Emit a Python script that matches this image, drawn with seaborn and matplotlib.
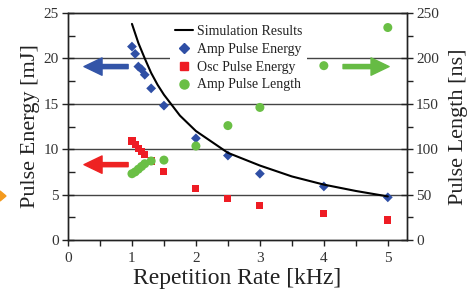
import matplotlib
matplotlib.use("Agg")
import matplotlib.pyplot as plt
import matplotlib.patches as mpatches
from matplotlib.ticker import MultipleLocator
from matplotlib.lines import Line2D
import pandas as pd
import seaborn as sns

# data
rate = [1.0, 1.05, 1.1, 1.15, 1.2, 1.3, 1.5, 2.0, 2.5, 3.0, 4.0, 5.0]
amp_energy = [21.3, 20.5, 19.1, 18.8, 18.2, 16.7, 14.8, 11.2, 9.3, 7.3, 5.9, 4.7]
osc_energy = [10.9, 10.5, 10.1, 9.7, 9.4, 8.7, 7.5, 5.7, 4.6, 3.85, 2.9, 2.2]
amp_length = [73, 75, 78, 81, 84, 87, 88, 103.5, 126, 146, 192, 234]

sim_rate = [1.0, 1.1, 1.2, 1.3, 1.4, 1.5, 1.75, 2.0, 2.5, 3.0, 3.5, 4.0, 4.5, 5.0]
sim_energy = [23.8, 21.7, 20.0, 18.4, 17.1, 16.0, 13.7, 12.0, 9.6, 8.2, 7.0, 6.1, 5.4, 4.8]

blue = '#2f4fa5'
red = '#ee1c24'
green = '#6abf45'

df = pd.DataFrame({'rate': rate, 'amp': amp_energy, 'osc': osc_energy, 'len': amp_length})
df_sim = pd.DataFrame({'rate': sim_rate, 'energy': sim_energy})

sns.set_style('ticks')
plt.rcParams['font.family'] = ['Liberation Serif', 'DejaVu Serif']

fig = plt.figure(figsize=(4.77, 2.97), dpi=100)
ax = fig.add_axes([68 / 477, 1 - 240 / 297, 339 / 477, 227 / 297])
ax2 = ax.twinx()

sns.lineplot(data=df_sim, x='rate', y='energy', ax=ax, color='black', linewidth=1.5)
sns.scatterplot(data=df, x='rate', y='amp', ax=ax, marker='D', color=blue, s=25, edgecolor='none')
sns.scatterplot(data=df, x='rate', y='osc', ax=ax, marker='s', color=red, s=26, edgecolor='none')
sns.scatterplot(data=df, x='rate', y='len', ax=ax2, marker='o', color=green, s=42, edgecolor='none')

ax.set_xlim(0, 5.3)
ax.set_ylim(0, 25)
ax2.set_ylim(0, 250)

ax.set_xticks([0, 1, 2, 3, 4, 5], labels=['0', '1', '2', '3', '4', '5'])
ax.xaxis.set_minor_locator(MultipleLocator(0.5))
ax.yaxis.set_major_locator(MultipleLocator(5))
ax.yaxis.set_minor_locator(MultipleLocator(2.5))
ax2.yaxis.set_major_locator(MultipleLocator(50))
ax2.yaxis.set_minor_locator(MultipleLocator(25))

for a in (ax, ax2):
    for s in a.spines.values():
        s.set_color('#222222')
        s.set_linewidth(1.0)
ax.tick_params(axis='y', which='major', direction='inout', length=9, width=1, labelsize=11, pad=2, colors='#222222')
ax.tick_params(axis='y', which='minor', direction='in', length=5, width=1, colors='#222222')
ax.tick_params(axis='x', which='both', direction='out', length=4, width=1, labelsize=11, pad=5, colors='#222222')
ax2.tick_params(axis='y', which='major', direction='inout', length=9, width=1, labelsize=11, pad=2, colors='#222222')
ax2.tick_params(axis='y', which='minor', direction='out', length=4, width=1, colors='#222222')
ax.tick_params(axis='y', labelcolor='#333333')
ax2.tick_params(axis='y', labelcolor='#333333')
ax.tick_params(axis='x', labelcolor='#333333')

for v in [5, 10, 15, 20]:
    ax.axhline(v, color='#444444', linewidth=1.0, zorder=0)

ax.set_xlabel('Repetition Rate [kHz]', fontsize=17, color='#222222', labelpad=2)
ax.set_ylabel('Pulse Energy [mJ]', fontsize=16, color='#222222', labelpad=3)
ax2.set_ylabel('Pulse Length [ns]', fontsize=16, color='#222222', labelpad=7)

# arrows pointing to the axis each series belongs to
arrow = 'simple,head_length=1.3,head_width=1.25,tail_width=0.3'
ax.annotate('', xy=(0.25, 19.1), xytext=(0.94, 19.1),
            arrowprops=dict(arrowstyle=arrow, color='#3355a8', mutation_scale=10, shrinkA=0, shrinkB=0))
ax.annotate('', xy=(0.25, 8.3), xytext=(0.94, 8.3),
            arrowprops=dict(arrowstyle=arrow, color='#ee2222', mutation_scale=10, shrinkA=0, shrinkB=0))
ax2.annotate('', xy=(5.02, 191), xytext=(4.3, 191),
             arrowprops=dict(arrowstyle=arrow, color='#66bb44', mutation_scale=10, shrinkA=0, shrinkB=0))

handles = [
    Line2D([], [], color='black', linewidth=1.5, label='Simulation Results'),
    Line2D([], [], color=blue, marker='D', linestyle='none', markersize=5, label='Amp Pulse Energy'),
    Line2D([], [], color=red, marker='s', linestyle='none', markersize=5.2, label='Osc Pulse Energy'),
    Line2D([], [], color=green, marker='o', linestyle='none', markersize=6.5, label='Amp Pulse Length'),
]
leg = ax2.legend(handles=handles, loc='upper left', bbox_to_anchor=(0.28, 1.0), fontsize=10,
                 frameon=True, fancybox=False, framealpha=1, facecolor='white', edgecolor='none',
                 handlelength=1.3, handletextpad=0.25, labelspacing=0.34, borderpad=0.38)
for t in leg.get_texts():
    t.set_color('#222222')

# small orange mark cut off at the left edge
fig.add_artist(mpatches.Polygon([[0, 1 - 191 / 297], [6 / 477, 1 - 196 / 297], [0, 1 - 201 / 297]],
                                closed=True, transform=fig.transFigure, color='#f39a1e'))

fig.savefig('out.png', dpi=100)
